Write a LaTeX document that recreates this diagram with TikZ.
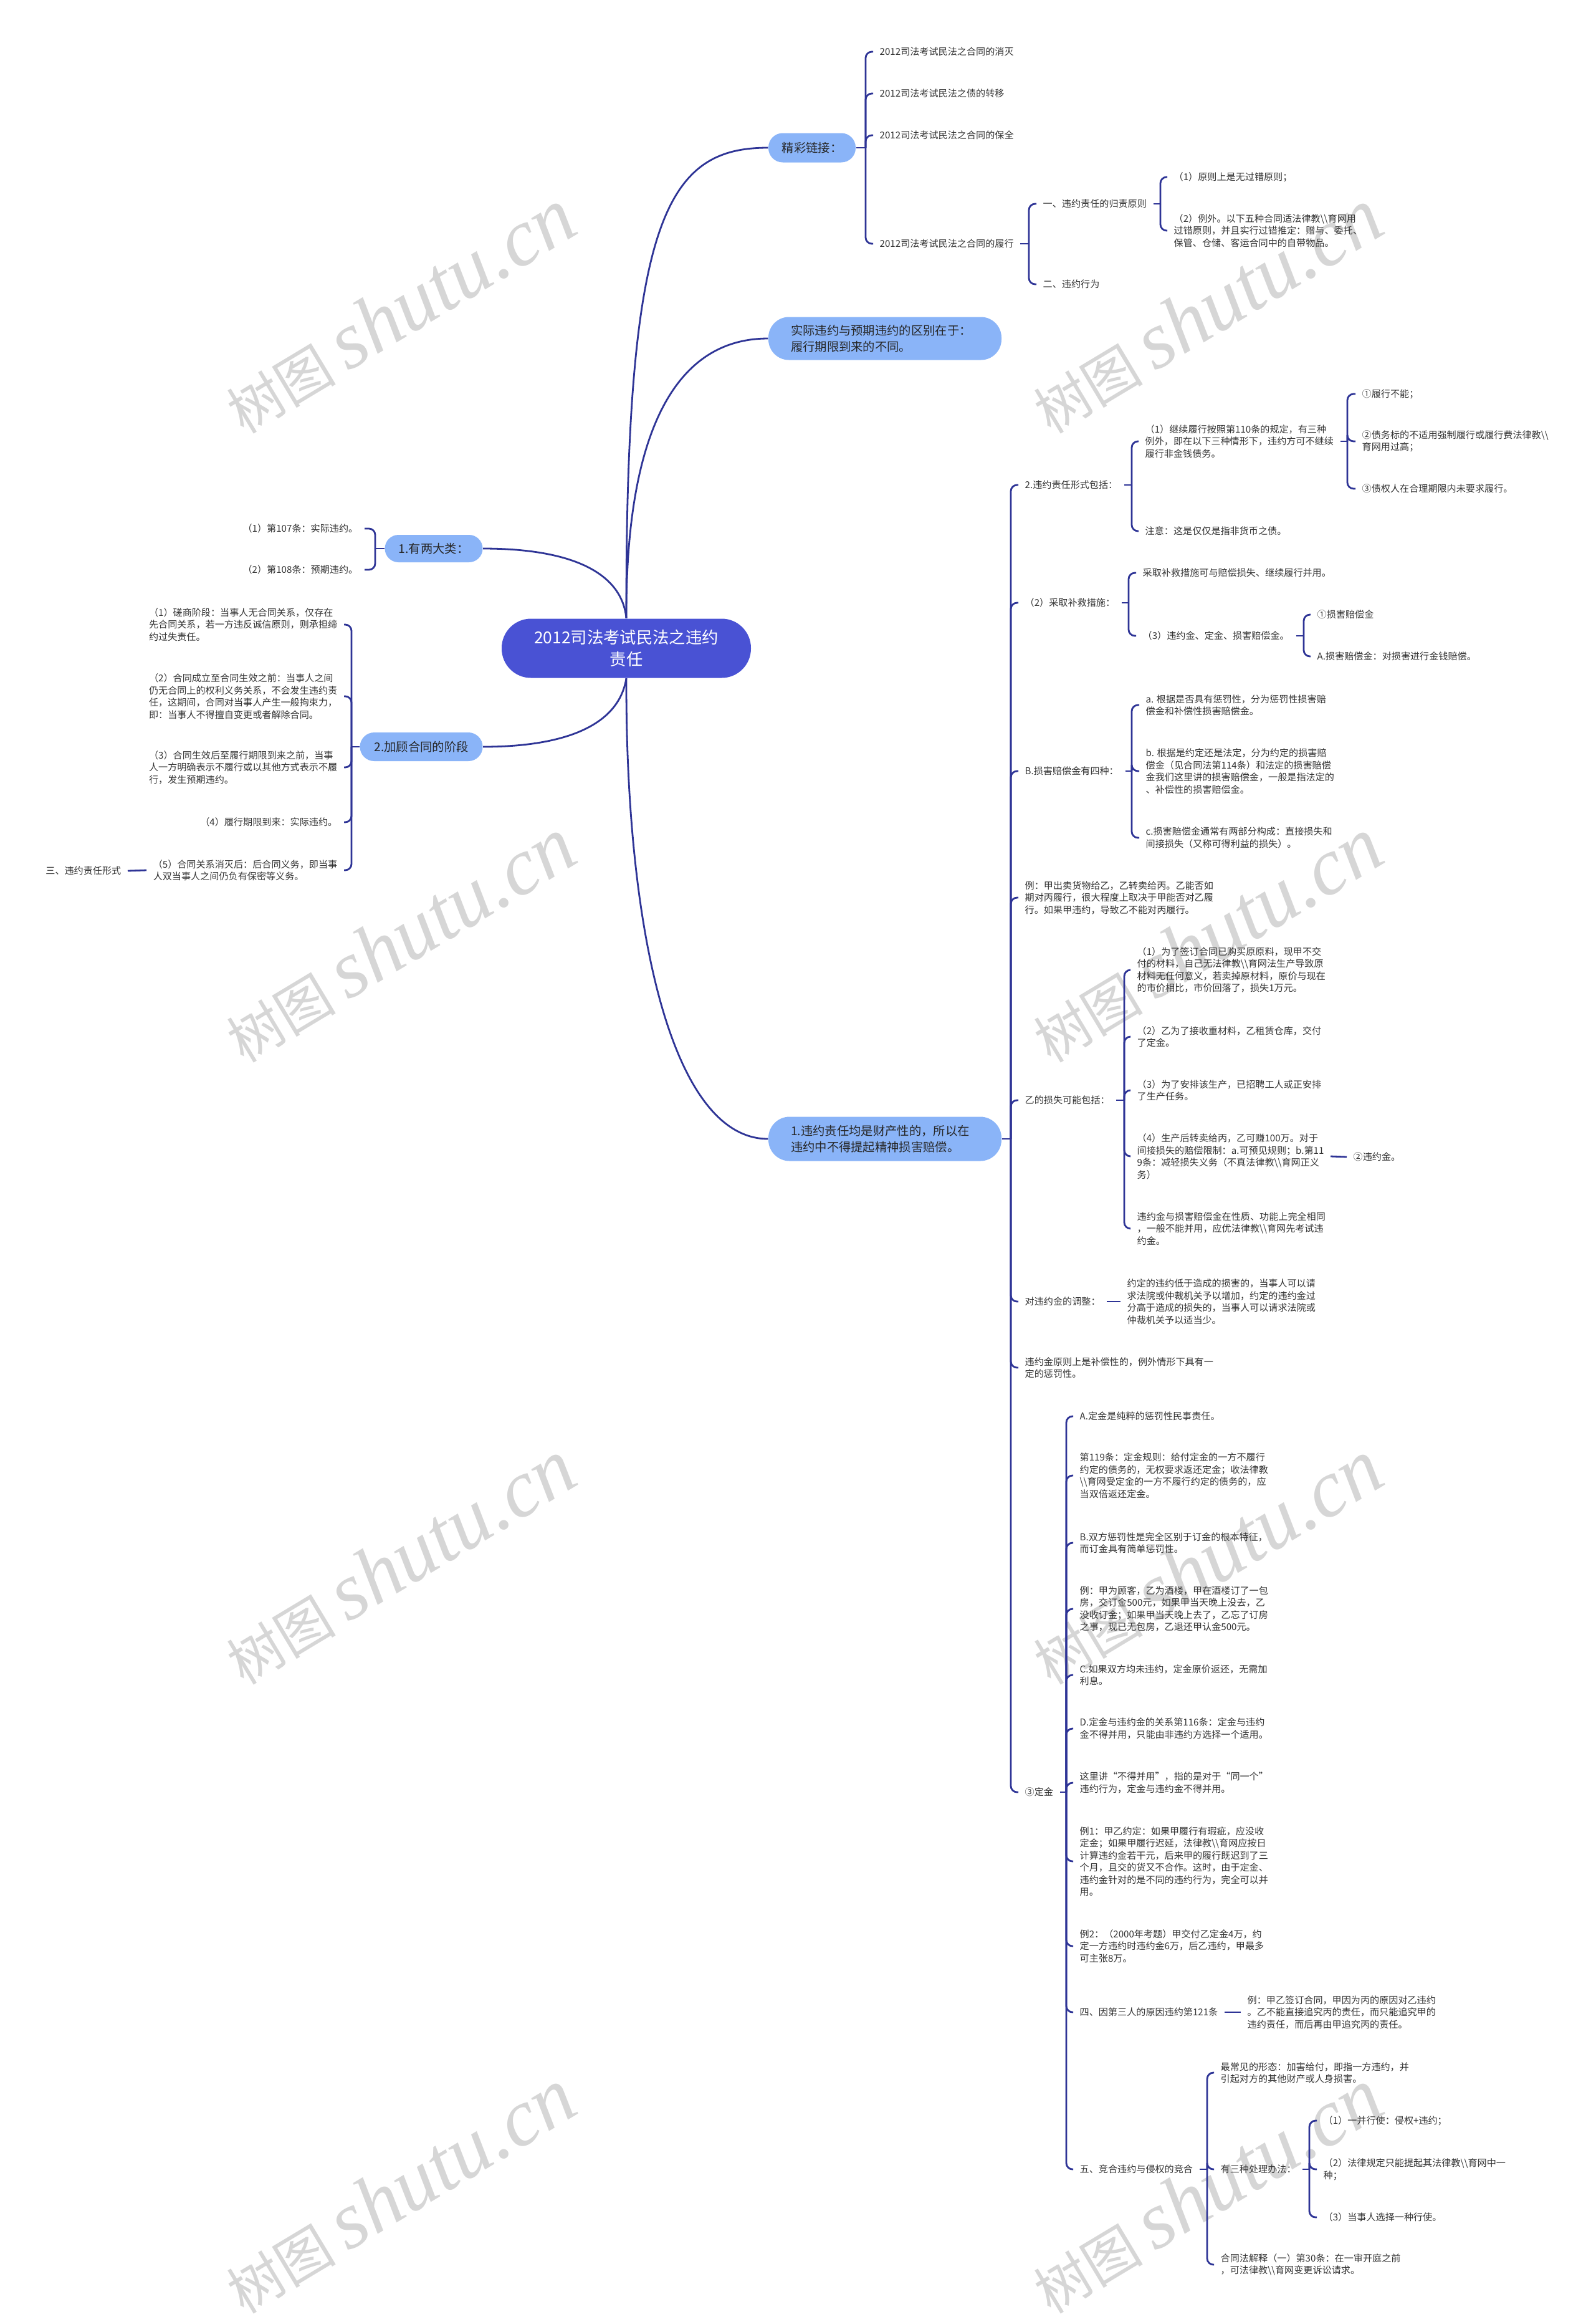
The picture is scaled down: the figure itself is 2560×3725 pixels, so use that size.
\documentclass[tikz,border=0pt]{standalone}
\usepackage{fontspec}
\setmainfont{Noto Sans CJK SC}
\newfontfamily\wmserif{Liberation Serif}
\definecolor{linkblue}{RGB}{46,52,150}
\definecolor{rootblue}{RGB}{73,82,212}
\definecolor{topicblue}{RGB}{138,180,248}
\definecolor{leafgray}{RGB}{51,51,51}
\newcommand{\dbs}{\textbackslash\textbackslash}
\tikzset{
  branch/.style={draw=linkblue, line width=0.28mm},
  hook/.style={branch, rounded corners=1mm},
  leaf/.style={font=\fontsize{4.3}{5.55}\selectfont, text=leafgray, align=left, inner xsep=1mm, inner ysep=0.4mm},
  topic/.style={fill=topicblue, text=black!85, font=\fontsize{5.5}{7.4}\selectfont, inner sep=0pt, align=center},
  mainbox/.style={fill=rootblue, text=white, font=\fontsize{7.5}{10}\selectfont, align=center, minimum width=40mm, minimum height=9.5mm, rounded corners=4.7mm, inner sep=0pt},
  wm/.style={rotate=31, text=black!16, font=\fontsize{25}{25}\selectfont}
}
\begin{document}
\begin{tikzpicture}[x=0.1mm, y=-0.1mm]
\fill[white] (0,0) rectangle (2560,3725);
\useasboundingbox (0,0) rectangle (2560,3725);
\foreach \wx in {641,1936}
  \foreach \wy in {499,1508,2506,3515}
    \node[wm] at (\wx,\wy) {树图 {\wmserif\itshape\fontsize{37}{37}\selectfont shutu.cn}};

\node[mainbox] (root) at (1005,1040) {2012司法考试民法之违约\\责任};
\node[topic, minimum width=14mm, minimum height=4.7mm, rounded corners=2.3mm] (jing) at (1303,237) {精彩链接：};
\node[topic, align=left, text width=30.2mm, inner xsep=3.6mm, minimum height=6.9mm, rounded corners=3.3mm] (shiji) at (1420,543) {实际违约与预期违约的区别在于：\\履行期限到来的不同。};
\node[topic, align=left, text width=30.2mm, inner xsep=3.6mm, minimum height=7.1mm, rounded corners=3.4mm] (caichan) at (1420,1827) {1.违约责任均是财产性的，所以在\\违约中不得提起精神损害赔偿。};
\node[topic, minimum width=15.7mm, minimum height=4.4mm, rounded corners=2.2mm] (liang) at (696,880) {1.有两大类：};
\node[topic, minimum width=19.7mm, minimum height=4.6mm, rounded corners=2.3mm] (jiegu) at (676,1198) {2.加顾合同的阶段};

\draw[branch] (root.north) .. controls (1004,350) and (1070,237) .. (jing.west);
\draw[branch] (root.north) .. controls (1004,700) and (1080,543) .. (shiji.west);
\draw[branch] (root.south) .. controls (1004,1500) and (1080,1827) .. (caichan.west);
\draw[branch] (liang.east) .. controls (920,880) and (998,920) .. (root.north);
\draw[branch] (jiegu.east) .. controls (870,1198) and (990,1180) .. (root.south);

% links
\node[leaf, anchor=west] (l11) at (1401,83) {2012司法考试民法之合同的消灭};
\node[leaf, anchor=west] (l12) at (1401,150) {2012司法考试民法之债的转移};
\node[leaf, anchor=west] (l13) at (1401,217) {2012司法考试民法之合同的保全};
\node[leaf, anchor=west] (l14) at (1401,391) {2012司法考试民法之合同的履行};
\coordinate (jingb) at (1389,237);
\draw[branch] (jing.east) -- (jingb);
\foreach \n in {l11,l12,l13,l14} \draw[hook] (jingb) |- (\n.west);

\node[leaf, anchor=west] (g1) at (1663,327) {一、违约责任的归责原则};
\node[leaf, anchor=west] (g2) at (1663,456) {二、违约行为};
\coordinate (l14b) at (1651,391);
\draw[branch] (l14.east) -- (l14b);
\foreach \n in {g1,g2} \draw[hook] (l14b) |- (\n.west);

\node[leaf, anchor=west] (g11) at (1873,284) {（1）原则上是无过错原则；};
\node[leaf, anchor=west] (g12) at (1873,370) {（2）例外。以下五种合同适法律教\dbs 育网用\\过错原则，并且实行过错推定：赠与、委托、\\保管、仓储、客运合同中的自带物品。};
\coordinate (g1b) at (1862,327);
\draw[branch] (g1.east) -- (g1b);
\foreach \n in {g11,g12} \draw[hook] (g1b) |- (\n.west);

% left side
\node[leaf, anchor=east] (t1) at (585,848) {（1）第107条：实际违约。};
\node[leaf, anchor=east] (t2) at (585,914) {（2）第108条：预期违约。};
\coordinate (liangb) at (602,880);
\draw[branch] (liang.west) -- (liangb);
\foreach \n in {t1,t2} \draw[hook] (liangb) |- (\n.east);

\node[leaf, anchor=east] (j1) at (552,1002) {（1）磋商阶段：当事人无合同关系，仅存在\\先合同关系，若一方违反诚信原则，则承担缔\\约过失责任。};
\node[leaf, anchor=east] (j2) at (552,1117) {（2）合同成立至合同生效之前：当事人之间\\仍无合同上的权利义务关系，不会发生违约责\\任，这期间，合同对当事人产生一般拘束力，\\即：当事人不得擅自变更或者解除合同。};
\node[leaf, anchor=east] (j3) at (552,1231) {（3）合同生效后至履行期限到来之前，当事\\人一方明确表示不履行或以其他方式表示不履\\行，发生预期违约。};
\node[leaf, anchor=east] (j4) at (552,1319) {（4）履行期限到来：实际违约。};
\node[leaf, anchor=east] (j5) at (552,1396) {（5）合同关系消灭后：后合同义务，即当事\\人双当事人之间仍负有保密等义务。};
\coordinate (jiegub) at (564,1198);
\draw[branch] (jiegu.west) -- (jiegub);
\foreach \n in {j1,j2,j3,j4,j5} \draw[hook] (jiegub) |- (\n.east);
\node[leaf, anchor=east] (san) at (205,1397) {三、违约责任形式};
\draw[branch] (j5.west) -- (san.east);

% main right branch
\node[leaf, anchor=west] (m1) at (1634,778) {2.违约责任形式包括：};
\node[leaf, anchor=west] (m2) at (1634,967) {（2）采取补救措施：};
\node[leaf, anchor=west] (m3) at (1634,1237) {B.损害赔偿金有四种：};
\node[leaf, anchor=west] (m4) at (1634,1440) {例：甲出卖货物给乙，乙转卖给丙。乙能否如\\期对丙履行，很大程度上取决于甲能否对乙履\\行。如果甲违约，导致乙不能对丙履行。};
\node[leaf, anchor=west] (m5) at (1634,1765) {乙的损失可能包括：};
\node[leaf, anchor=west] (m6) at (1634,2088) {对违约金的调整：};
\node[leaf, anchor=west] (m7) at (1634,2194) {违约金原则上是补偿性的，例外情形下具有一\\定的惩罚性。};
\node[leaf, anchor=west] (m8) at (1634,2875) {③定金};
\coordinate (caib) at (1622,1827);
\draw[branch] (caichan.east) -- (caib);
\foreach \n in {m1,m2,m3,m4,m5,m6,m7,m8} \draw[hook] (caib) |- (\n.west);

\node[leaf, anchor=west] (m11) at (1827,708) {（1）继续履行按照第110条的规定，有三种\\例外，即在以下三种情形下，违约方可不继续\\履行非金钱债务。};
\node[leaf, anchor=west] (m12) at (1827,852) {注意：这是仅仅是指非货币之债。};
\coordinate (m1b) at (1816,778);
\draw[branch] (m1.east) -- (m1b);
\foreach \n in {m11,m12} \draw[hook] (m1b) |- (\n.west);

\node[leaf, anchor=west] (m111) at (2175,632) {①履行不能；};
\node[leaf, anchor=west] (m112) at (2175,708) {②债务标的不适用强制履行或履行费法律教\dbs\\育网用过高；};
\node[leaf, anchor=west] (m113) at (2175,784) {③债权人在合理期限内未要求履行。};
\coordinate (m11b) at (2162,708);
\draw[branch] (m11.east) -- (m11b);
\foreach \n in {m111,m112,m113} \draw[hook] (m11b) |- (\n.west);

\node[leaf, anchor=west] (m21) at (1823,919) {采取补救措施可与赔偿损失、继续履行并用。};
\node[leaf, anchor=west] (m22) at (1823,1020) {（3）违约金、定金、损害赔偿金。};
\coordinate (m2b) at (1811,967);
\draw[branch] (m2.east) -- (m2b);
\foreach \n in {m21,m22} \draw[hook] (m2b) |- (\n.west);

\node[leaf, anchor=west] (m221) at (2103,986) {①损害赔偿金};
\node[leaf, anchor=west] (m222) at (2103,1053) {A.损害赔偿金：对损害进行金钱赔偿。};
\coordinate (m22b) at (2092,1020);
\draw[branch] (m22.east) -- (m22b);
\foreach \n in {m221,m222} \draw[hook] (m22b) |- (\n.west);

\node[leaf, anchor=west] (m31) at (1828,1131) {a. 根据是否具有惩罚性，分为惩罚性损害赔\\偿金和补偿性损害赔偿金。};
\node[leaf, anchor=west] (m32) at (1828,1237) {b. 根据是约定还是法定，分为约定的损害赔\\偿金（见合同法第114条）和法定的损害赔偿\\金我们这里讲的损害赔偿金，一般是指法定的\\、补偿性的损害赔偿金。};
\node[leaf, anchor=west] (m33) at (1828,1344) {c.损害赔偿金通常有两部分构成：直接损失和\\间接损失（又称可得利益的损失）。};
\coordinate (m3b) at (1816,1237);
\draw[branch] (m3.east) -- (m3b);
\foreach \n in {m31,m32,m33} \draw[hook] (m3b) |- (\n.west);

\node[leaf, anchor=west] (m51) at (1814,1556) {（1）为了签订合同已购买原原料，现甲不交\\付的材料，自己无法律教\dbs 育网法生产导致原\\材料无任何意义，若卖掉原材料，原价与现在\\的市价相比，市价回落了，损失1万元。};
\node[leaf, anchor=west] (m52) at (1814,1663) {（2）乙为了接收重材料，乙租赁仓库，交付\\了定金。};
\node[leaf, anchor=west] (m53) at (1814,1749) {（3）为了安排该生产，已招聘工人或正安排\\了生产任务。};
\node[leaf, anchor=west] (m54) at (1814,1855) {（4）生产后转卖给丙，乙可赚100万。对于\\间接损失的赔偿限制：a.可预见规则；b.第11\\9条：减轻损失义务（不真法律教\dbs 育网正义\\务）};
\node[leaf, anchor=west] (m55) at (1814,1971) {违约金与损害赔偿金在性质、功能上完全相同\\，一般不能并用，应优法律教\dbs 育网先考试违\\约金。};
\coordinate (m5b) at (1804,1765);
\draw[branch] (m5.east) -- (m5b);
\foreach \n in {m51,m52,m53,m54,m55} \draw[hook] (m5b) |- (\n.west);
\node[leaf, anchor=west] (m541) at (2161,1856) {②违约金。};
\draw[branch] (m54.east) -- (m541.west);

\node[leaf, anchor=west] (m61) at (1798,2088) {约定的违约低于造成的损害的，当事人可以请\\求法院或仲裁机关予以增加，约定的违约金过\\分高于造成的损失的，当事人可以请求法院或\\仲裁机关予以适当少。};
\draw[branch] (m6.east) -- (m61.west);

% deposit
\node[leaf, anchor=west] (d1) at (1722,2272) {A.定金是纯粹的惩罚性民事责任。};
\node[leaf, anchor=west] (d2) at (1722,2367) {第119条：定金规则：给付定金的一方不履行\\约定的债务的，无权要求返还定金；收法律教\\\dbs 育网受定金的一方不履行约定的债务的，应\\当双倍返还定金。};
\node[leaf, anchor=west] (d3) at (1722,2475) {B.双方惩罚性是完全区别于订金的根本特征，\\而订金具有简单惩罚性。};
\node[leaf, anchor=west] (d4) at (1722,2581) {例：甲为顾客，乙为酒楼，甲在酒楼订了一包\\房，交订金500元，如果甲当天晚上没去，乙\\没收订金；如果甲当天晚上去了，乙忘了订房\\之事，现已无包房，乙退还甲认金500元。};
\node[leaf, anchor=west] (d5) at (1722,2687) {C.如果双方均未违约，定金原价返还，无需加\\利息。};
\node[leaf, anchor=west] (d6) at (1722,2773) {D.定金与违约金的关系第116条：定金与违约\\金不得并用，只能由非违约方选择一个适用。};
\node[leaf, anchor=west] (d7) at (1722,2860) {这里讲“不得并用”，指的是对于“同一个”\\违约行为，定金与违约金不得并用。};
\node[leaf, anchor=west] (d8) at (1722,2986) {例1：甲乙约定：如果甲履行有瑕疵，应没收\\定金；如果甲履行迟延，法律教\dbs 育网应按日\\计算违约金若干元，后来甲的履行既迟到了三\\个月，且交的货又不合作。这时，由于定金、\\违约金针对的是不同的违约行为，完全可以并\\用。};
\node[leaf, anchor=west] (d9) at (1722,3122) {例2：（2000年考题）甲交付乙定金4万，约\\定一方违约时违约金6万，后乙违约，甲最多\\可主张8万。};
\node[leaf, anchor=west] (d10) at (1722,3228) {四、因第三人的原因违约第121条};
\node[leaf, anchor=west] (d11) at (1722,3480) {五、竞合违约与侵权的竞合};
\coordinate (m8b) at (1711,2875);
\draw[branch] (m8.east) -- (m8b);
\foreach \n in {d1,d2,d3,d4,d5,d6,d7,d8,d9,d10,d11} \draw[hook] (m8b) |- (\n.west);

\node[leaf, anchor=west] (d101) at (1991,3228) {例：甲乙签订合同，甲因为丙的原因对乙违约\\。乙不能直接追究丙的责任，而只能追究甲的\\违约责任，而后再由甲追究丙的责任。};
\draw[branch] (d10.east) -- (d101.west);

\node[leaf, anchor=west] (d111) at (1948,3325) {最常见的形态：加害给付，即指一方违约，并\\引起对方的其他财产或人身损害。};
\node[leaf, anchor=west] (d112) at (1948,3480) {有三种处理办法：};
\node[leaf, anchor=west] (d113) at (1948,3633) {合同法解释（一）第30条：在一审开庭之前\\，可法律教\dbs 育网变更诉讼请求。};
\coordinate (d11b) at (1937,3480);
\draw[branch] (d11.east) -- (d11b);
\foreach \n in {d111,d112,d113} \draw[hook] (d11b) |- (\n.west);

\node[leaf, anchor=west] (d1121) at (2113,3402) {（1）一并行使：侵权+违约；};
\node[leaf, anchor=west] (d1122) at (2113,3480) {（2）法律规定只能提起其法律教\dbs 育网中一\\种；};
\node[leaf, anchor=west] (d1123) at (2113,3557) {（3）当事人选择一种行使。};
\coordinate (d112b) at (2101,3480);
\draw[branch] (d112.east) -- (d112b);
\foreach \n in {d1121,d1122,d1123} \draw[hook] (d112b) |- (\n.west);
\end{tikzpicture}
\end{document}
